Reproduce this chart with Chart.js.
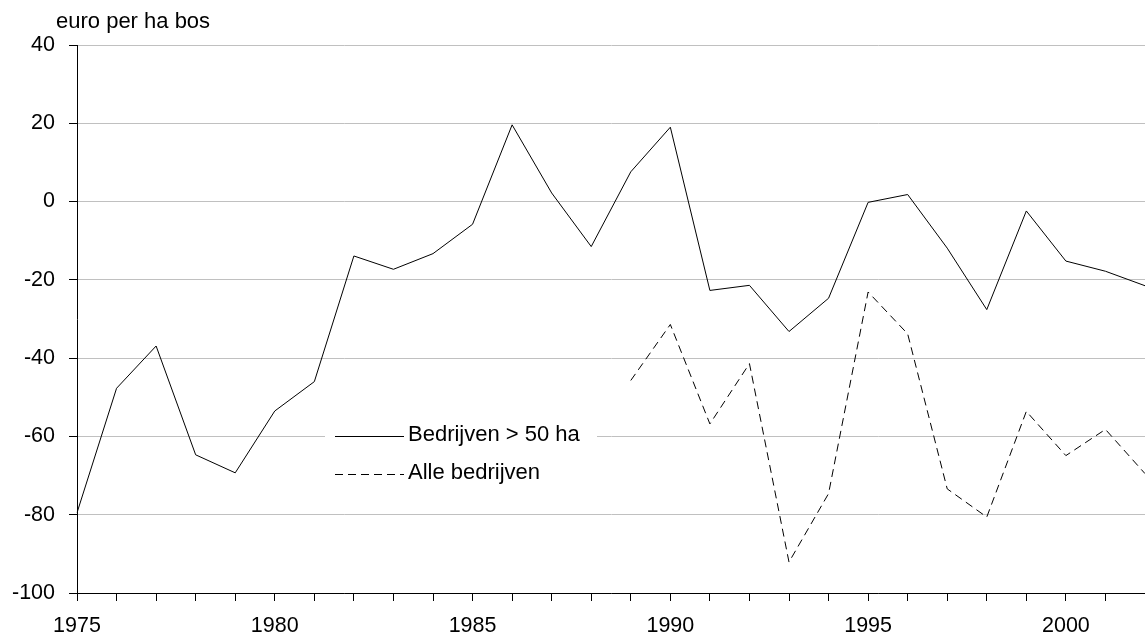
<!DOCTYPE html>
<html>
<head>
<meta charset="utf-8">
<script src="https://cdn.jsdelivr.net/npm/chart.js@4/dist/chart.umd.min.js"></script>
<style>
  body { margin: 0; background: #fff; }
  canvas { display: block; }
</style>
</head>
<body>
<canvas id="grafiek" width="1145" height="637"></canvas>
<script>
var jaren = ['1975','1976','1977','1978','1979','1980','1981','1982','1983','1984',
             '1985','1986','1987','1988','1989','1990','1991','1992','1993','1994',
             '1995','1996','1997','1998','1999','2000','2001','2002']

var groot = [-79.5, -47.7, -36.9, -64.7, -69.3, -53.5, -46.0, -13.9, -17.3, -13.3,
             -5.8, 19.6, 2.2, -11.5, 7.6, 19.0, -22.7, -21.4, -33.2, -24.7,
             -0.2, 1.8, -11.9, -27.6, -2.4, -15.2, -17.8, -21.5]

var alle = [null, null, null, null, null, null, null, null, null, null,
            null, null, null, null, -45.7, -31.4, -56.8, -41.4, -92.1, -74.6,
            -23.1, -33.8, -73.4, -80.6, -53.6, -64.9, -58.2, -69.5]

var namen = ['Bedrijven > 50 ha', 'Alle bedrijven']
var eenheid = 'euro per ha bos'
var yMin = -100
var yMax = 40
var yStap = 20

var lettertype = '"Liberation Sans", Arial, sans-serif'

// legenda en eenheid tekenen we zelf
var extra = {
    id: 'extra',
    beforeDatasetsDraw: function (chart) {
        var ctx = chart.ctx
        var area = chart.chartArea
        var x0 = area.left + 258
        var y0 = chart.scales.y.getPixelForValue(-60)
        ctx.save()
        ctx.fillStyle = '#fff'
        ctx.fillRect(x0 - 10, y0 - 18, 272, 70)
        ctx.font = '22px ' + lettertype
        ctx.textBaseline = 'middle'
        chart.data.datasets.forEach(function (ds, i) {
            var y = Math.round(y0 + i * 38) + 0.5
            ctx.strokeStyle = ds.borderColor
            ctx.lineWidth = 1
            ctx.setLineDash(ds.borderDash || [])
            ctx.beginPath()
            ctx.moveTo(x0, y)
            ctx.lineTo(x0 + 69, y)
            ctx.stroke()
            ctx.setLineDash([])
            ctx.fillStyle = '#000'
            ctx.fillText(ds.label, x0 + 73, y - 2)
        })
        ctx.restore()
    },
    afterDraw: function (chart) {
        var ctx = chart.ctx
        ctx.save()
        ctx.font = '22px ' + lettertype
        ctx.fillStyle = '#000'
        ctx.textBaseline = 'alphabetic'
        ctx.fillText(eenheid, 56, 28)
        ctx.restore()
    }
}

const config = {
    type: 'line',
    data: {
        labels: jaren,
        datasets: [{
            label: namen[0],
            data: groot,
            borderColor: '#000',
            borderWidth: 1,
            pointRadius: 0,
            tension: 0,
            fill: false
        }, {
            label: namen[1],
            data: alle,
            borderColor: '#000',
            borderWidth: 1,
            borderDash: [8, 5],
            pointRadius: 0,
            tension: 0,
            fill: false
        }]
    },
    options: {
        responsive: false,
        devicePixelRatio: 1,
        animation: false,
        layout: { padding: { top: 45, right: 0, bottom: 0, left: 0 } },
        plugins: {
            legend: { display: false },
            tooltip: { enabled: false },
            title: { display: false }
        },
        scales: {
            x: {
                type: 'category',
                offset: false,
                grid: {
                    offset: false,
                    drawOnChartArea: false,
                    drawTicks: true,
                    tickLength: 8,
                    tickColor: '#000'
                },
                border: { color: '#000', width: 1 },
                ticks: {
                    autoSkip: false,
                    maxRotation: 0,
                    padding: 12,
                    color: '#000',
                    font: { family: lettertype, size: 21.5 },
                    callback: function (val, i) {
                        var j = parseInt(jaren[i])
                        return j % 5 === 0 ? jaren[i] : ''
                    }
                },
                afterFit: function (s) {
                    s.height = 44
                    s.paddingRight = 0
                    s.paddingLeft = 0
                }
            },
            y: {
                min: yMin,
                max: yMax,
                grid: {
                    color: '#c0c0c0',
                    lineWidth: 1,
                    drawTicks: true,
                    tickLength: 8,
                    tickColor: '#000'
                },
                border: { color: '#000', width: 1 },
                ticks: {
                    stepSize: yStap,
                    padding: 14,
                    color: '#000',
                    font: { family: lettertype, size: 21.5 }
                },
                afterFit: function (s) { s.width = 77 }
            }
        }
    },
    plugins: [extra]
}

const grafiek = new Chart(document.getElementById('grafiek'), config)
</script>
</body>
</html>
